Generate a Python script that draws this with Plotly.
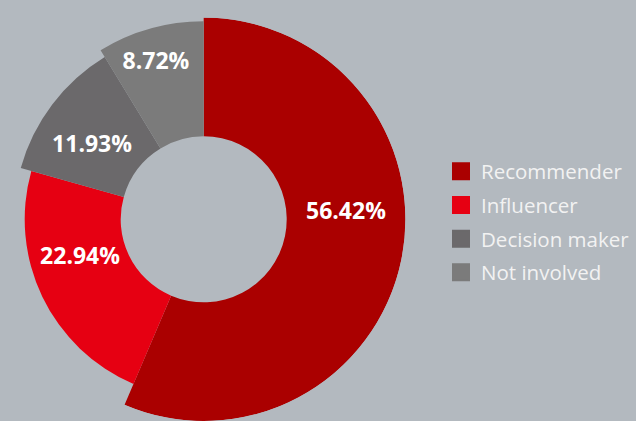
import plotly.graph_objects as go

# ---- data ----
categories = ["Recommender", "Influencer", "Decision maker", "Not involved"]
shares = [56.42, 22.94, 11.93, 8.72]
labels = ["56.42%", "22.94%", "11.93%", "8.72%"]

# ---- styles ----
colors = ["#aa0000", "#e60012", "#6b696b", "#7b7b7b"]
bg = "#b3b9bf"
W, H = 636, 421
cx, cy = 203.7, 219.3          # donut centre (px from left / top)
R = H - cy                     # usable outer radius (px)
outer_px = [R, 179, 190, 198]  # outer radius of each slice (px)
hole_px = 83
label_r = [142.4, 129.6, 133.3, 163.4]
label_theta = [87.5, 252.6, 303.1, 343.0]

fig = go.Figure()
total = sum(shares)
start = 0.0
for cat, s, col, ro in zip(categories, shares, colors, outer_px):
    w = s / total * 360.0
    fig.add_trace(go.Barpolar(
        theta=[start + w / 2], r=[ro - hole_px], base=[hole_px], width=[w],
        marker=dict(color=col, line=dict(width=0)),
        name=cat, showlegend=False, hoverinfo="skip"))
    start += w

fig.add_trace(go.Scatterpolar(
    r=label_r, theta=label_theta, mode="text", text=labels,
    textposition="middle center",
    textfont=dict(family="Open Sans", size=23, color="white", weight="bold"),
    showlegend=False, hoverinfo="skip"))

for i, (cat, col) in enumerate(zip(categories, colors)):
    fig.add_trace(go.Scatterpolar(
        r=[None], theta=[None], mode="markers", name=cat,
        legendgroup=f"g{i}",
        marker=dict(symbol="square", size=16, color=col,
                    line=dict(width=2, color=col)),
        showlegend=True))

fig.update_layout(
    width=W, height=H,
    margin=dict(l=0, r=0, t=0, b=0),
    paper_bgcolor=bg, plot_bgcolor=bg,
    polar=dict(
        domain=dict(x=[(cx - R) / W, (cx + R) / W], y=[0, 2 * R / H]),
        bgcolor="rgba(0,0,0,0)",
        barmode="overlay", bargap=0,
        radialaxis=dict(range=[0, R], visible=False),
        angularaxis=dict(rotation=90, direction="clockwise", visible=False),
    ),
    legend=dict(
        x=441 / W, y=1 - 222 / H, xanchor="left", yanchor="middle",
        font=dict(family="Open Sans", size=20.5, color="#f2f2f2"),
        bgcolor="rgba(0,0,0,0)", tracegroupgap=4,
    ),
    showlegend=True,
)

fig.write_html(
    "out.html",
    config={"displayModeBar": False},
    post_script="document.body.style.margin='0';document.body.style.overflow='hidden';",
)
